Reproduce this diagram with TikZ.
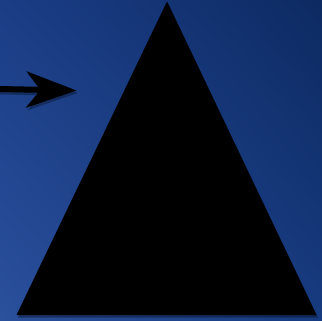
\documentclass[tikz,border=0pt]{standalone}
\usetikzlibrary{arrows.meta,shadings}
\definecolor{bgUL}{HTML}{1A3D86}
\definecolor{bgUR}{HTML}{0D2A62}
\definecolor{bgLL}{HTML}{2B509C}
\definecolor{bgLR}{HTML}{173B80}
\tikzset{
  shape fill/.style={fill=black},
  shadowcopy/.style={fill=black, opacity=0.35},
  pointer/.style={line width=6pt, -{Stealth[length=50pt, width=36pt, inset=14pt]}},
}
\begin{document}
\begin{tikzpicture}[x=1pt, y=-1pt]
  \useasboundingbox (0,0) rectangle (322,321);
  \shade[upper left=bgUL, upper right=bgUR, lower left=bgLL, lower right=bgLR] (0,0) rectangle (322,321);
  % triangle shadow and triangle
  \coordinate (apex) at (167,1.5);
  \coordinate (bl) at (16.5,315);
  \coordinate (br) at (316.5,315);
  \fill[shadowcopy] ([shift={(1.5,2.5)}]apex) -- ([shift={(1.5,2.5)}]bl) -- ([shift={(1.5,2.5)}]br) -- cycle;
  \fill[shape fill] (apex) -- (bl) -- (br) -- cycle;
  % arrow
  \coordinate (arrowstart) at (-2,89);
  \coordinate (arrowend) at (76.5,90.5);
  \draw[pointer, black, opacity=0.3] ([shift={(1.5,2.5)}]arrowstart) -- ([shift={(1.5,2.5)}]arrowend);
  \draw[pointer, black] (arrowstart) -- (arrowend);
\end{tikzpicture}
\end{document}
